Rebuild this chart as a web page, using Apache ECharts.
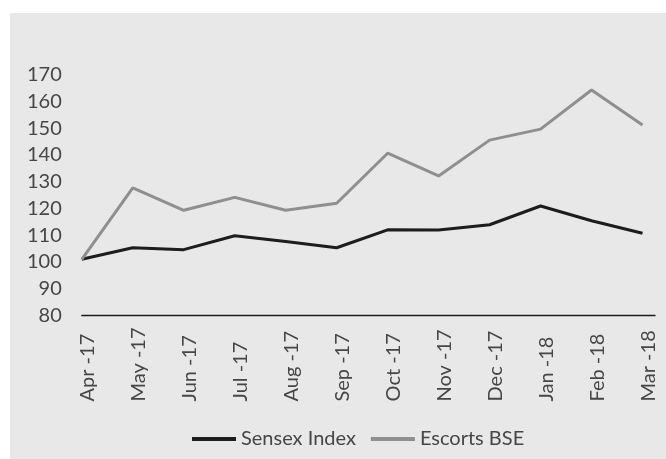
<!DOCTYPE html>
<html>
<head>
<meta charset="utf-8">
<script src="https://cdn.jsdelivr.net/npm/echarts@6/dist/echarts.min.js"></script>
<style>
  html, body { margin: 0; padding: 0; background: #ffffff; }
  #chart { position: absolute; left: 10px; top: 13px; width: 656px; height: 446px; }
</style>
</head>
<body>
<div id="chart"></div>
<script>
  // values
  var months = ['Apr -17', 'May -17', 'Jun -17', 'Jul -17', 'Aug -17', 'Sep -17',
                'Oct -17', 'Nov -17', 'Dec -17', 'Jan -18', 'Feb -18', 'Mar -18'];
  var sensex = [101, 105.3, 104.6, 109.8, 107.6, 105.3, 112, 111.9, 113.9, 120.9, 115.4, 110.7];
  var escorts = [101, 127.7, 119.3, 124.1, 119.3, 121.9, 140.6, 132.1, 145.5, 149.6, 164.2, 151.1];
  var yTicks = { min: 80, max: 170, step: 10 };

  var pairs = function (arr) {
    return arr.map(function (v, i) { return [i, v]; });
  };

  var textColor = '#464646';
  var font = 'Lato, "Open Sans", sans-serif';

  var myChart = echarts.init(document.getElementById('chart'));
  var option = {
    backgroundColor: '#e7e8e7',
    animation: false,
    grid: { left: 71.8, right: 11, top: 61.5, bottom: 143.5 },
    legend: {
      data: ['Sensex Index', 'Escorts BSE'],
      left: 177,
      top: 411,
      icon: 'rect',
      itemWidth: 44,
      itemHeight: 4,
      itemGap: 15,
      textStyle: { color: textColor, fontSize: 20, fontFamily: font }
    },
    xAxis: {
      type: 'value',
      min: 0,
      max: 11.245,
      interval: 1,
      splitLine: { show: false },
      axisTick: { show: false },
      axisLine: { show: true, onZero: false, lineStyle: { color: '#1a1a1a', width: 1.3 } },
      axisLabel: {
        rotate: 90,
        align: 'left',
        verticalAlign: 'top',
        lineHeight: 12,
        margin: 86,
        color: textColor,
        fontSize: 20,
        fontFamily: font,
        showMaxLabel: false,
        formatter: function (v) {
          return Number.isInteger(v) && months[v] ? months[v] : '';
        }
      }
    },
    yAxis: {
      type: 'value',
      min: yTicks.min,
      max: yTicks.max,
      interval: yTicks.step,
      splitLine: { show: false },
      axisTick: { show: false },
      axisLine: { show: false },
      axisLabel: { margin: 20, color: textColor, fontSize: 20, fontFamily: font }
    },
    series: [
      {
        name: 'Sensex Index',
        type: 'line',
        data: pairs(sensex),
        symbol: 'none',
        color: '#1e1c1d',
        lineStyle: { width: 3, color: '#1e1c1d' }
      },
      {
        name: 'Escorts BSE',
        type: 'line',
        data: pairs(escorts),
        symbol: 'none',
        color: '#8e8f8f',
        lineStyle: { width: 3, color: '#8e8f8f' }
      }
    ]
  };
  myChart.setOption(option);
  window.onresize = myChart.resize;
</script>
</body>
</html>
